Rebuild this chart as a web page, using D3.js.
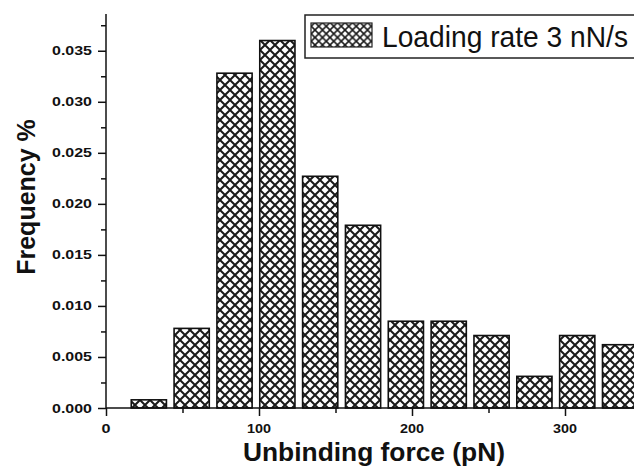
<!DOCTYPE html>
<html>
<head>
<meta charset="utf-8">
<script src="https://cdn.jsdelivr.net/npm/d3@7"></script>
<style>
  body { margin: 0; background: #fff; }
  svg { display: block; }
  text { font-family: "Liberation Sans", Arial, sans-serif; }
</style>
</head>
<body>
<div id="chart"></div>
<script>
// histogram bins (pN, bin centres) and frequencies
const binCenters = [28, 56, 84, 112, 140, 168, 196, 224, 252, 280, 308, 336];
const frequency = [0.0008, 0.0078, 0.0328, 0.0360, 0.0227, 0.0179, 0.0085, 0.0085, 0.0071, 0.0031, 0.0071, 0.0062];
const xTicks = [0, 100, 200, 300];
const yTicks = [0, 0.005, 0.010, 0.015, 0.020, 0.025, 0.030, 0.035];
const legendLabel = "Loading rate 3 nN/s";

const width = 634, height = 467;
const binWidth = 23; // drawn bar width, pN

const svg = d3.select("#chart").append("svg")
    .attr("width", width)
    .attr("height", height);

// cross hatch patterns
const defs = svg.append("defs");
function hatch(id, size, sw) {
    const p = defs.append("pattern")
        .attr("id", id)
        .attr("patternUnits", "userSpaceOnUse")
        .attr("width", size)
        .attr("height", size);
    p.append("rect").attr("width", size).attr("height", size).attr("fill", "#fff");
    p.append("path")
        .attr("d", `M0,0L${size},${size}M0,${size}L${size},0`)
        .attr("stroke", "#1a1a1a")
        .attr("stroke-width", sw);
}
hatch("hatch", 10, 2);
hatch("hatchSmall", 7.5, 1.6);

const x = d3.scaleLinear().domain([0, 350]).range([106, 106 + 350 * 1.53]);
const y = d3.scaleLinear().domain([0, 0.0386]).range([408, 14]);

// bars
svg.selectAll(".bar")
    .data(binCenters)
    .enter()
    .append("rect")
    .attr("class", "bar")
    .attr("x", (d) => x(d - binWidth / 2))
    .attr("width", (d) => x(binWidth) - x(0))
    .attr("y", (d, i) => y(frequency[i]))
    .attr("height", (d, i) => y(0) - y(frequency[i]))
    .attr("fill", "url(#hatch)")
    .attr("stroke", "#111")
    .attr("stroke-width", 1.6);

// x axis
const xAxis = svg.append("g").attr("transform", `translate(0,${y(0)})`);
xAxis.call(d3.axisBottom(x).tickValues(d3.range(0, 351, 50)).tickSize(8).tickFormat(""));
xAxis.selectAll(".tick line").attr("y2", (d) => (d % 100 === 0 ? 8 : 5));
xAxis.select(".domain").attr("d", `M${x(0)},0H${width + 10}`);
xAxis.selectAll(".tick line, .domain").attr("stroke", "#111").attr("stroke-width", 1.5);
xAxis.selectAll(".xlab")
    .data(xTicks)
    .enter()
    .append("text")
    .attr("x", (d) => x(d))
    .attr("y", 25)
    .attr("text-anchor", "middle")
    .attr("font-size", 12.5)
    .attr("font-weight", "bold")
    .attr("fill", "#111")
    .attr("textLength", (d) => (d === 0 ? 9 : 24))
    .attr("lengthAdjust", "spacingAndGlyphs")
    .text((d) => d);

// y axis
const yAxis = svg.append("g").attr("transform", `translate(${x(0)},0)`);
yAxis.call(d3.axisLeft(y).tickValues(d3.range(0, 0.0386, 0.0025)).tickSize(8).tickFormat(""));
yAxis.selectAll(".tick line").attr("x2", (d, i) => (i % 2 === 0 ? -8 : -5));
yAxis.select(".domain").attr("d", `M0,${y(0)}V${y.range()[1]}`);
yAxis.selectAll(".tick line, .domain").attr("stroke", "#111").attr("stroke-width", 1.5);
yAxis.selectAll(".ylab")
    .data(yTicks)
    .enter()
    .append("text")
    .attr("x", -14)
    .attr("y", (d) => y(d) + 4.5)
    .attr("text-anchor", "end")
    .attr("font-size", 12.5)
    .attr("font-weight", "bold")
    .attr("fill", "#111")
    .attr("textLength", 40)
    .attr("lengthAdjust", "spacingAndGlyphs")
    .text((d) => d3.format(".3f")(d));

// axis titles
svg.append("text")
    .attr("x", 374)
    .attr("y", 461)
    .attr("text-anchor", "middle")
    .attr("font-size", 25)
    .attr("font-weight", "bold")
    .attr("fill", "#111")
    .attr("textLength", 262)
    .attr("lengthAdjust", "spacingAndGlyphs")
    .text("Unbinding force (pN)");

svg.append("text")
    .attr("transform", "translate(35,197) rotate(-90)")
    .attr("text-anchor", "middle")
    .attr("font-size", 25)
    .attr("font-weight", "bold")
    .attr("fill", "#111")
    .text("Frequency %");

// legend
const legend = svg.append("g");
legend.append("rect")
    .attr("x", 305).attr("y", 15)
    .attr("width", 340).attr("height", 43)
    .attr("fill", "#fff")
    .attr("stroke", "#222")
    .attr("stroke-width", 1.5);
legend.append("rect")
    .attr("x", 311).attr("y", 23)
    .attr("width", 61).attr("height", 24)
    .attr("fill", "url(#hatchSmall)")
    .attr("stroke", "#222")
    .attr("stroke-width", 1.2);
legend.append("text")
    .attr("x", 382)
    .attr("y", 47)
    .attr("font-size", 29)
    .attr("fill", "#111")
    .attr("textLength", 246)
    .attr("lengthAdjust", "spacingAndGlyphs")
    .text(legendLabel);
</script>
</body>
</html>
